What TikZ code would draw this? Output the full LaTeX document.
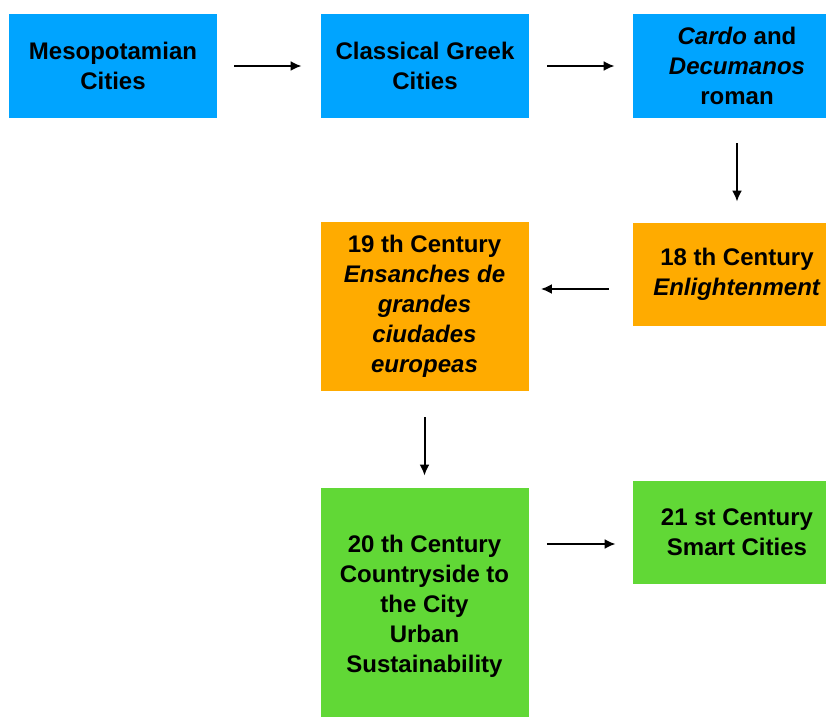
\documentclass[tikz,border=0pt]{standalone}
\usepackage{fontspec}
\setmainfont{Liberation Sans}
\usetikzlibrary{arrows.meta,positioning,calc}
\definecolor{boxblue}{RGB}{0,164,255}
\definecolor{boxorange}{RGB}{255,171,0}
\definecolor{boxgreen}{RGB}{97,216,54}

\begin{document}
\begin{tikzpicture}[x=0.5pt, y=-0.5pt,
    era/.style={inner sep=0pt, minimum width=104pt, align=center,
        font=\fontsize{12}{15}\bfseries},
    flow/.style={-{Latex[length=5.5pt,width=5pt]}, line width=1pt}]
    \useasboundingbox (0,0) rectangle (826,717);

    % Ancient cities
    \node[era, fill=boxblue, minimum height=52pt] (b1) at (113,66) {Mesopotamian\\Cities};
    \node[era, fill=boxblue, minimum height=52pt] (b2) at (425,66) {Classical Greek\\Cities};
    \node[era, fill=boxblue, minimum height=52pt] (b3) at (737,66) {\textit{Cardo} and\\\textit{Decumanos}\\roman};

    % 18th and 19th century
    \node[era, fill=boxorange, minimum height=51.5pt] (b4) at (737,274.5) {18 th Century\\\textit{Enlightenment}};
    \node[era, fill=boxorange, minimum height=84.5pt] (b5) at (424.5,306.5) {19 th Century\\\textit{Ensanches de}\\\textit{grandes}\\\textit{ciudades}\\\textit{europeas}};

    % 20th and 21st century
    \node[era, fill=boxgreen, minimum height=118pt] (b6) at (424.5,606) {20 th Century\\Countryside to\\the City\\Urban\\Sustainability};
    \node[era, fill=boxgreen, minimum height=51.5pt] (b7) at (737,532.5) {21 st Century\\Smart Cities};

    % Arrows
    \draw[flow, shorten <=8.5pt, shorten >=9.5pt] (b1) -- (b2);
    \draw[flow, shorten <=9pt, shorten >=9pt] (b2) -- (b3);
    \draw[flow, shorten <=12.5pt, shorten >=10.5pt] (b3) -- (b4);
    \coordinate (a4) at ($(b4.west)+(0,14.5)$);
    \draw[flow, shorten <=12pt, shorten >=6pt] (a4) -- (b5.east |- a4);
    \draw[flow, shorten <=13pt, shorten >=6pt] (b5) -- (b6);
    \coordinate (a6) at ($(b6.east |- b7.west)+(0,11.5)$);
    \draw[flow, shorten <=9pt, shorten >=8.5pt] (a6) -- (b7.west |- a6);
\end{tikzpicture}
\end{document}
